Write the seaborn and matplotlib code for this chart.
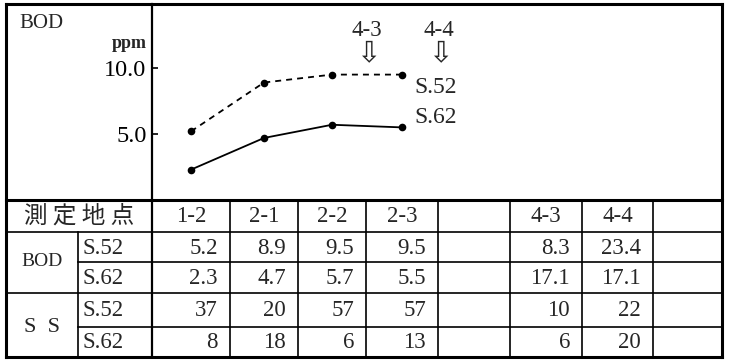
import matplotlib
matplotlib.use("Agg")
import matplotlib.pyplot as plt
import seaborn as sns
import pandas as pd

# ---- data -------------------------------------------------------------
sites = ["1-2", "2-1", "2-2", "2-3", "", "4-3", "4-4", ""]
years = ["S.52", "S.62"]
bod_s52 = [5.2, 8.9, 9.5, 9.5, None, 8.3, 23.4, None]
bod_s62 = [2.3, 4.7, 5.7, 5.5, None, 17.1, 17.1, None]
ss_s52 = [37, 20, 57, 57, None, 10, 22, None]
ss_s62 = [8, 18, 6, 13, None, 6, 20, None]
plotted_sites = ["1-2", "2-1", "2-2", "2-3"]
yticks = [5.0, 10.0]
marked_sites = ["4-3", "4-4"]

# ---- styling ----------------------------------------------------------
sns.set_theme(style="white")
plt.rcParams["font.family"] = ["Liberation Serif", "Noto Sans CJK JP", "DejaVu Sans"]

W, H = 731, 363
fig = plt.figure(figsize=(W / 100, H / 100), dpi=100)

# full-figure axes in pixel units for the frame and the table
base = fig.add_axes([0, 0, 1, 1])
base.set_xlim(0, W)
base.set_ylim(H, 0)
base.axis("off")

LEFT, RIGHT, TOP, BOTTOM = 6, 722, 4, 357
SPLIT = 200          # chart / table boundary
LABEL_X = 152        # end of the label column
SUB_X = 78           # split between group name and year
col_edges = [152, 230, 298, 366, 438, 510, 582, 653, 722]
row_edges = [200, 232, 262, 293, 327, 357]

THICK, THIN = 2.2, 1.2


def hline(y, x0, x1, lw=THIN):
    base.plot([x0, x1], [y, y], color="black", lw=lw, solid_capstyle="projecting")


def vline(x, y0, y1, lw=THIN):
    base.plot([x, x], [y0, y1], color="black", lw=lw, solid_capstyle="projecting")


# outer frame
hline(TOP, LEFT, RIGHT, THICK)
hline(BOTTOM, LEFT, RIGHT, THICK)
vline(LEFT, TOP, BOTTOM, THICK)
vline(RIGHT, TOP, BOTTOM, THICK)
hline(SPLIT, LEFT, RIGHT, THICK)
vline(LABEL_X, TOP, BOTTOM, 1.6)

# table grid
hline(row_edges[1], LEFT, RIGHT)
hline(row_edges[2], SUB_X, RIGHT)
hline(row_edges[3], LEFT, RIGHT)
hline(row_edges[4], SUB_X, RIGHT)
vline(SUB_X, row_edges[1], BOTTOM)
for x in col_edges[1:-1]:
    vline(x, SPLIT, BOTTOM)

FS = 16.5
# header row
hy = (row_edges[0] + row_edges[1]) / 2
base.text((LEFT + LABEL_X) / 2, hy, "測 定 地 点", ha="center", va="center",
          fontsize=17, family=["Noto Sans CJK JP"])
for i, s in enumerate(sites):
    if s:
        base.text((col_edges[i] + col_edges[i + 1]) / 2, hy + 1, s,
                  ha="center", va="center", fontsize=FS)

# group labels
base.text((LEFT + SUB_X) / 2, row_edges[2], "BOD", ha="center", va="center", fontsize=14)
base.text((LEFT + SUB_X) / 2, row_edges[4], "S  S", ha="center", va="center", fontsize=16)

table_rows = [(bod_s52, "{:.1f}"), (bod_s62, "{:.1f}"), (ss_s52, "{:d}"), (ss_s62, "{:d}")]
for r, (vals, fmt) in enumerate(table_rows):
    cy = (row_edges[r + 1] + row_edges[r + 2]) / 2 + 1
    base.text(SUB_X + 5, cy, years[r % 2], ha="left", va="center", fontsize=FS)
    for i, v in enumerate(vals):
        if v is not None:
            base.text(col_edges[i + 1] - 12, cy, fmt.format(v),
                      ha="right", va="center", fontsize=FS)

# ---- BOD chart --------------------------------------------------------
PX_PER_PPM = 13.2
ax = fig.add_axes([LABEL_X / W, 1 - SPLIT / H, (RIGHT - LABEL_X) / W, (SPLIT - TOP) / H])
ax.set_facecolor("none")
for sp in ax.spines.values():
    sp.set_visible(False)
ax.set_xlim(LABEL_X, RIGHT)
ax.set_ylim(0, (SPLIT - TOP) / PX_PER_PPM)

centers = {s: (col_edges[i] + col_edges[i + 1]) / 2 for i, s in enumerate(sites) if s}
df = pd.DataFrame({
    "x": [centers[s] for s in plotted_sites] * 2,
    "BOD": bod_s52[:4] + bod_s62[:4],
    "year": [years[0]] * 4 + [years[1]] * 4,
})
sns.lineplot(data=df, x="x", y="BOD", hue="year", style="year",
             palette=["black", "black"],
             dashes={years[0]: (3.3, 2.8), years[1]: ""},
             markers={years[0]: "o", years[1]: "o"},
             markersize=5.5, markeredgewidth=0, lw=1.3,
             legend=False, ax=ax)
ax.set_xlabel("")
ax.set_ylabel("")
ax.set_xticks([])
ax.set_yticks(yticks)
ax.set_yticklabels([f"{t:.1f}" for t in yticks])
ax.tick_params(axis="y", direction="in", length=4, width=1.2, pad=4,
               labelsize=17.5, left=True, colors="black")

# series names beside the end of each line
last_x = centers[plotted_sites[-1]]
for vals, name, dy in [(bod_s52, years[0], -9), (bod_s62, years[1], 7)]:
    ax.annotate(name, (last_x, vals[3]), xytext=(9, dy), textcoords="offset points",
                ha="left", va="center", fontsize=17)

# unit and title
base.text(147, 44, "ppm", ha="right", va="center", fontsize=13, fontweight="bold")
base.text(19, 23, "BOD", ha="left", va="center", fontsize=15)

# site markers with arrows
for s, x in zip(marked_sites, [367, 439]):
    base.text(x, 31, s, ha="center", va="center", fontsize=16.5)
    base.text(x + 1, 53, "\u21e9", ha="center", va="center", fontsize=21,
              family=["DejaVu Sans"])

fig.savefig("out.png", dpi=100)
